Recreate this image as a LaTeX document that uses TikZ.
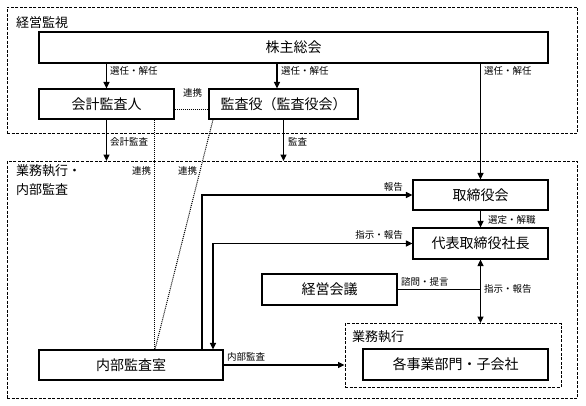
\documentclass[tikz,border=0pt]{standalone}
\usepackage{fontspec}
\setmainfont{Noto Sans CJK JP}
\usetikzlibrary{arrows.meta}
\tikzset{
  box/.style={draw, line width=1.2pt, rectangle, inner sep=0pt, font=\fontsize{14}{16}\selectfont},
  grp/.style={draw, line width=1pt, dash pattern=on 3pt off 1.5pt, rectangle, inner sep=0pt},
  grplabel/.style={inner sep=0pt, anchor=west, font=\fontsize{13}{19}\selectfont},
  lbl/.style={inner sep=0pt, font=\fontsize{9.5}{11}\selectfont},
  conn/.style={line width=1.2pt},
  arr/.style={line width=1.2pt, -{Triangle[length=6.5pt,width=6pt]}},
  darr/.style={line width=1.2pt, {Triangle[length=6.5pt,width=6pt]}-{Triangle[length=6.5pt,width=6pt]}},
  dot/.style={line width=1pt, dash pattern=on 1pt off 1pt},
}
\begin{document}
\begin{tikzpicture}[x=1pt, y=-1pt]
\useasboundingbox (0,0) rectangle (586,405);
% groups
\node[grp, minimum width=570.5pt, minimum height=126pt] (g1) at (292.25,70) {};
\node[grp, minimum width=570.5pt, minimum height=236.5pt] (g2) at (292.25,279.75) {};
\node[grp, minimum width=216pt, minimum height=63.5pt] (g3) at (453,355.25) {};
\node[grplabel] (g1l) at (16,23) {経営監視};
\node[grplabel, anchor=north west, align=left] (g2l) at (16,164) {業務執行・\\内部監査};
\node[grplabel] (g3l) at (352,337) {業務執行};
% boxes
\node[box, minimum width=509pt, minimum height=31pt] (kabu) at (293.5,47.5) {株主総会};
\node[box, minimum width=135pt, minimum height=30pt] (kaikei) at (106.5,104) {会計監査人};
\node[box, minimum width=149pt, minimum height=30pt] (kansa) at (283.5,104) {監査役（監査役会）};
\node[box, minimum width=135pt, minimum height=30pt] (tori) at (480.5,195) {取締役会};
\node[box, minimum width=135pt, minimum height=31pt] (dai) at (480.5,243.5) {代表取締役社長};
\node[box, minimum width=135pt, minimum height=31pt] (keiei) at (329.5,289.5) {経営会議};
\node[box, minimum width=184pt, minimum height=30pt] (naibu) at (131,365) {内部監査室};
\node[box, minimum width=185pt, minimum height=31pt] (jigyo) at (455.5,364.5) {各事業部門・子会社};
% connectors
\coordinate (kansaN) at ([xshift=-6.5pt]kansa.north);
\draw[arr] (kabu.south -| kaikei.north) -- (kaikei.north);
\draw[arr] (kabu.south -| kansaN) -- (kansaN);
\draw[arr] (kabu.south -| tori.north) -- (tori.north);
\draw[dot] ([yshift=-5pt]kaikei.east) -- ([yshift=-5pt]kansa.west);
\draw[arr] (kaikei.south) -- (kaikei.south |- g2.north);
\draw[arr] (kansa.south) -- (kansa.south |- g2.north);
\draw[dot] ([xshift=47.5pt]kaikei.south) -- ([xshift=23pt]naibu.north);
\draw[dot] ([xshift=-70.5pt]kansa.south) -- ([xshift=24pt]naibu.north);
\draw[arr] ([xshift=71pt]naibu.north) |- (tori.west);
\draw[darr] ([xshift=82pt]naibu.north) |- (dai.west);
\draw[arr] (tori.south) -- (dai.north);
\draw[darr] (dai.south) -- (dai.south |- g3.north);
\draw[conn] (keiei.east) -- (keiei.east -| dai.south);
\draw[arr] (naibu.east) -- (naibu.east -| g3.west);
% labels
\node[lbl, anchor=west] (l1) at (110,71) {選任・解任};
\node[lbl, anchor=west] (l2) at (281,71) {選任・解任};
\node[lbl, anchor=west] (l3) at (484,71) {選任・解任};
\node[lbl] (l4) at (192.5,93) {連携};
\node[lbl, anchor=west] (l5) at (110,142) {会計監査};
\node[lbl, anchor=west] (l6) at (288,142) {監査};
\node[lbl] (l7) at (141.5,171) {連携};
\node[lbl] (l8) at (187.5,171) {連携};
\node[lbl, anchor=east] (l9) at (403,187) {報告};
\node[lbl, anchor=east] (l10) at (403,235) {指示・報告};
\node[lbl, anchor=west] (l11) at (488,220) {選定・解職};
\node[lbl, anchor=west] (l12) at (401,282) {諮問・提言};
\node[lbl, anchor=west] (l13) at (484,289) {指示・報告};
\node[lbl, anchor=west] (l14) at (227,357) {内部監査};
\end{tikzpicture}
\end{document}
